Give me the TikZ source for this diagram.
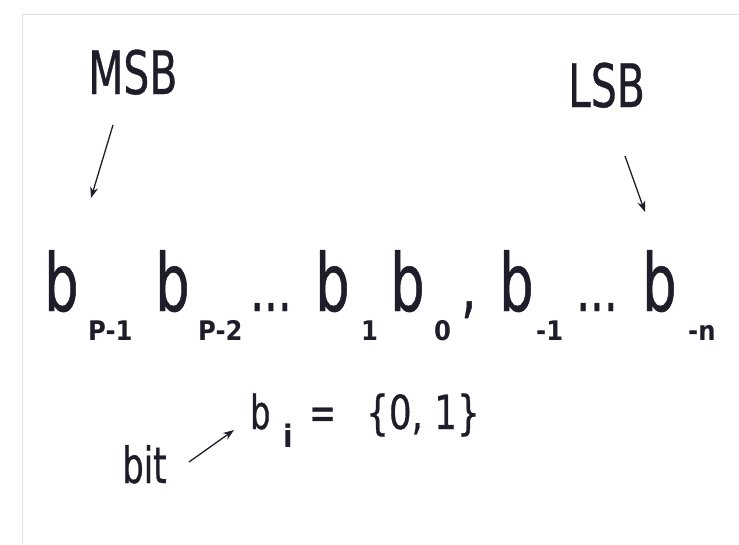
\documentclass[tikz,border=0pt]{standalone}
\usepackage{fontspec}
\usetikzlibrary{arrows.meta}
\newfontfamily\mainf[FakeStretch=0.68,FakeBold=0.6]{DejaVu Sans}
\newfontfamily\setf[FakeStretch=0.76,FakeBold=0.6]{DejaVu Sans}
\newfontfamily\subf[FakeStretch=0.9]{DejaVu Sans}
\definecolor{ink}{HTML}{1E1E2A}
\definecolor{frame}{HTML}{E2E2E2}
\tikzset{
  txt/.style={inner sep=0pt, anchor=base west, text=ink},
  big/.style={txt, font=\mainf\fontsize{80}{80}\selectfont},
  mid/.style={txt, font=\mainf\fontsize{60}{60}\selectfont},
  small/.style={txt, font=\mainf\fontsize{47}{47}\selectfont},
  sub/.style={txt, font=\subf\bfseries\fontsize{27}{27}\selectfont},
  pointer/.style={draw=ink, line width=1.3pt, -{Stealth[length=11pt,width=8pt]}}
}
\begin{document}
\begin{tikzpicture}[x=1pt,y=-1pt]
\useasboundingbox (0,0) rectangle (739,544);
\draw[frame, line width=1pt] (739,14) -- (22,14) -- (22,544);
% labels
\node[mid] (msb) at (88,94) {MSB};
\node[mid] (lsb) at (568,107) {LSB};
% main line
\node[big] (b1) at (44,311) {b};
\node[sub] (s1) at (88,340) {P-1};
\node[big] (b2) at (155,311) {b};
\node[sub] (s2) at (198,340) {P-2};
\node[txt, font=\mainf\fontsize{64}{64}\selectfont] (d1) at (250,311) {...};
\node[big] (b3) at (315,311) {b};
\node[sub] (s3) at (361,340) {1};
\node[big] (b4) at (390,311) {b};
\node[sub] (s4) at (434,340) {0};
\node[txt, font=\mainf\fontsize{70}{70}\selectfont] (cm) at (461,310) {,};
\node[big] (b5) at (499,311) {b};
\node[sub] (s5) at (536,340) {-1};
\node[txt, font=\mainf\fontsize{64}{64}\selectfont] (d2) at (576,311) {...};
\node[big] (b6) at (642,311) {b};
\node[sub] (s6) at (688,340) {-n};
% bottom formula
\node[small] (bi) at (250,429) {b};
\node[sub, font=\subf\bfseries\fontsize{31}{31}\selectfont] (si) at (283,447) {i};
\node[small] (eq) at (309,429) {=};
\node[txt, font=\setf\fontsize{47}{47}\selectfont] (set) at (366,429) {\{0, 1\}};
\node[txt, font=\mainf\fontsize{50}{50}\selectfont] (bit) at (122,483) {bit};
% arrows
\coordinate (msbA) at (113,125);
\coordinate (msbB) at (91,198);
\coordinate (lsbA) at (625,156);
\coordinate (lsbB) at (645,212);
\coordinate (bitA) at (189,462);
\coordinate (bitB) at (234,430);
\draw[pointer] (msbA) -- (msbB);
\draw[pointer] (lsbA) -- (lsbB);
\draw[pointer] (bitA) -- (bitB);
\end{tikzpicture}
\end{document}
